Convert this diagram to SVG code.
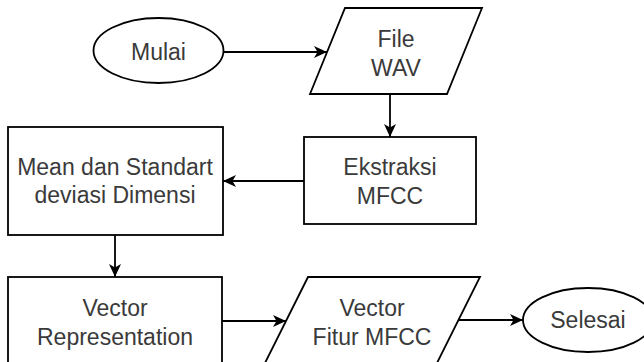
<svg xmlns="http://www.w3.org/2000/svg" width="644" height="362" viewBox="0 0 644 362">
  <defs>
    <style>
      .shape { fill: #ffffff; stroke: #000000; stroke-width: 1.8; }
      .edge { fill: none; stroke: #000000; stroke-width: 1.8; }
      .label { font-family: "Liberation Sans", Arial, sans-serif; font-size: 23px; fill: #3a3a3a; text-anchor: middle; }
    </style>
    <marker id="arrow" markerUnits="userSpaceOnUse" markerWidth="14" markerHeight="13" refX="13" refY="6" orient="auto">
      <path d="M0,0 L13,6 L0,12 L3.5,6 Z" fill="#000000"/>
    </marker>
  </defs>
  <rect width="644" height="362" fill="#ffffff"/>

  <g id="mulai">
    <ellipse class="shape" cx="158.5" cy="50.5" rx="65" ry="32.5"/>
    <text class="label" x="158.5" y="60">Mulai</text>
  </g>

  <g id="file-wav">
    <polygon class="shape" points="345,8 482,8 447,94 310,94"/>
    <text class="label" x="396" y="47">File</text>
    <text class="label" x="396" y="76">WAV</text>
  </g>

  <g id="ekstraksi-mfcc">
    <rect class="shape" x="304" y="137" width="172" height="87"/>
    <text class="label" x="390" y="175">Ekstraksi</text>
    <text class="label" x="390" y="204">MFCC</text>
  </g>

  <g id="mean-std">
    <rect class="shape" x="8" y="127" width="215" height="108"/>
    <text class="label" x="115" y="175">Mean dan Standart</text>
    <text class="label" x="115" y="203">deviasi Dimensi</text>
  </g>

  <g id="vector-representation">
    <rect class="shape" x="8" y="277" width="214" height="100"/>
    <text class="label" x="115" y="316">Vector</text>
    <text class="label" x="115" y="345">Representation</text>
  </g>

  <g id="vector-fitur-mfcc">
    <polygon class="shape" points="308,277 480,277 437,363 265,363"/>
    <text class="label" x="372" y="316">Vector</text>
    <text class="label" x="372" y="345">Fitur MFCC</text>
  </g>

  <g id="selesai">
    <ellipse class="shape" cx="588" cy="320" rx="65" ry="32"/>
    <text class="label" x="588" y="328">Selesai</text>
  </g>

  <g id="connectors">
    <line class="edge" x1="224" y1="52" x2="327" y2="52" marker-end="url(#arrow)"/>
    <line class="edge" x1="390" y1="94" x2="390" y2="137" marker-end="url(#arrow)"/>
    <line class="edge" x1="304" y1="181" x2="223" y2="181" marker-end="url(#arrow)"/>
    <line class="edge" x1="115" y1="235" x2="115" y2="277" marker-end="url(#arrow)"/>
    <line class="edge" x1="222" y1="321" x2="286" y2="321" marker-end="url(#arrow)"/>
    <line class="edge" x1="458" y1="320" x2="523" y2="320" marker-end="url(#arrow)"/>
  </g>
</svg>
